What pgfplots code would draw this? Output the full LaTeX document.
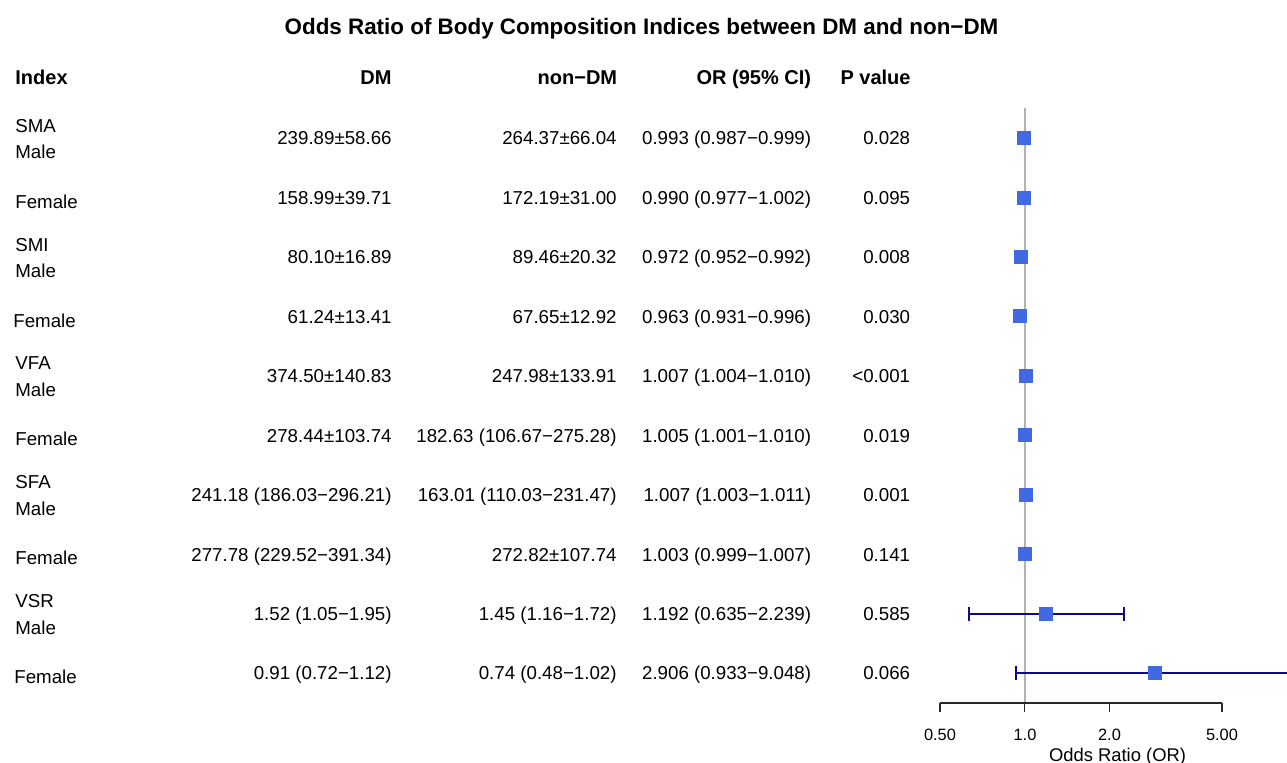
\documentclass[border=0pt]{standalone}
\usepackage{pgfplots}
\pgfplotsset{compat=1.18}
\usepackage{pgfplotstable}
\usepackage{fontspec}
\setmainfont{Liberation Sans}
\definecolor{boxblue}{RGB}{65,105,225}
\definecolor{cinavy}{RGB}{10,10,140}
\definecolor{refgray}{RGB}{178,178,178}
\definecolor{axisdark}{RGB}{40,40,40}

\newcommand\bodyfont{\fontsize{9.35}{11}\selectfont}
\newcommand\headfont{\fontsize{10}{12}\selectfont\bfseries}
\newcommand\titlefont{\fontsize{11.2}{13}\selectfont\bfseries}
\newcommand\tickfont{\fontsize{8.2}{10}\selectfont}
\newcommand\labfont{\fontsize{9.2}{11}\selectfont}

% row  OR  lower  upper
\pgfplotstableread{
row or lo hi
1 0.993 0.987 0.999
2 0.990 0.977 1.002
3 0.972 0.952 0.992
4 0.963 0.931 0.996
5 1.007 1.004 1.010
6 1.005 1.001 1.010
7 1.007 1.003 1.011
8 1.003 0.999 1.007
9 1.192 0.635 2.239
10 2.906 0.933 9.048
}\ordata

% #1 row centre (px), #2 DM, #3 non-DM, #4 OR, #5 P
\newcommand\vrow[5]{%
  \node[anchor=base east,inner sep=0,font=\bodyfont] at (392,{#1+6.7}) {#2};
  \node[anchor=base east,inner sep=0,font=\bodyfont] at (617,{#1+6.7}) {#3};
  \node[anchor=base east,inner sep=0,font=\bodyfont] at (811.5,{#1+6.7}) {#4};
  \node[anchor=base east,inner sep=0,font=\bodyfont] at (910.5,{#1+6.7}) {#5};
}
% #1 centre, #2 index name
\newcommand\malelab[2]{%
  \node[anchor=base west,inner sep=0,font=\bodyfont] at (15,{#1-6.1}) {#2};
  \node[anchor=base west,inner sep=0,font=\bodyfont] at (15,{#1+20.3}) {Male};
}
\newcommand\femlab[2]{%
  \node[anchor=base west,inner sep=0,font=\bodyfont] at (#2,{#1+10.5}) {Female};
}

\begin{document}
\begin{tikzpicture}[x=0.5pt,y=-0.5pt]
\useasboundingbox (0,0) rectangle (1287,763);

% title
\node[anchor=base,inner sep=0,font=\titlefont] at (641.5,35) {Odds Ratio of Body Composition Indices between DM and non−DM};

% headers
\node[anchor=base west,inner sep=0,font=\headfont] at (15,85) {Index};
\node[anchor=base east,inner sep=0,font=\headfont] at (392,85) {DM};
\node[anchor=base east,inner sep=0,font=\headfont] at (617.5,85) {non−DM};
\node[anchor=base east,inner sep=0,font=\headfont] at (811.5,85) {OR (95\% CI)};
\node[anchor=base east,inner sep=0,font=\headfont] at (911,85) {P value};

% row labels
\malelab{138.3}{SMA}
\femlab{197.7}{15}
\malelab{257.2}{SMI}
\femlab{316.6}{13}
\malelab{376.1}{VFA}
\femlab{435.5}{15}
\malelab{495.0}{SFA}
\femlab{554.4}{15}
\malelab{613.8}{VSR}
\femlab{673.3}{14}

% row values
\vrow{138.3}{239.89±58.66}{264.37±66.04}{0.993 (0.987−0.999)}{0.028}
\vrow{197.7}{158.99±39.71}{172.19±31.00}{0.990 (0.977−1.002)}{0.095}
\vrow{257.2}{80.10±16.89}{89.46±20.32}{0.972 (0.952−0.992)}{0.008}
\vrow{316.6}{61.24±13.41}{67.65±12.92}{0.963 (0.931−0.996)}{0.030}
\vrow{376.1}{374.50±140.83}{247.98±133.91}{1.007 (1.004−1.010)}{<0.001}
\vrow{435.5}{278.44±103.74}{182.63 (106.67−275.28)}{1.005 (1.001−1.010)}{0.019}
\vrow{495.0}{241.18 (186.03−296.21)}{163.01 (110.03−231.47)}{1.007 (1.003−1.011)}{0.001}
\vrow{554.4}{277.78 (229.52−391.34)}{272.82±107.74}{1.003 (0.999−1.007)}{0.141}
\vrow{613.8}{1.52 (1.05−1.95)}{1.45 (1.16−1.72)}{1.192 (0.635−2.239)}{0.585}
\vrow{673.3}{0.91 (0.72−1.12)}{0.74 (0.48−1.02)}{2.906 (0.933−9.048)}{0.066}

% tick labels and axis title
\node[anchor=base,inner sep=0,font=\tickfont] at (940,741) {0.50};
\node[anchor=base,inner sep=0,font=\tickfont] at (1025,741) {1.0};
\node[anchor=base,inner sep=0,font=\tickfont] at (1109.5,741) {2.0};
\node[anchor=base,inner sep=0,font=\tickfont] at (1222,741) {5.00};
\node[anchor=base,inner sep=0,font=\labfont] at (1117.5,761.5) {Odds Ratio (OR)};

\begin{axis}[
  at={(470pt,-54.15pt)}, anchor=north west,
  width=173.5pt, height=297.35pt, scale only axis,
  xmode=log, xmin=0.5, xmax=8.51,
  ymin=0.5, ymax=10.5, y dir=reverse,
  axis lines=none,
  clip mode=individual,
]
% reference line at OR = 1
\addplot[refgray, line width=1pt] coordinates {(1,0.5) (1,10.5)};
% confidence intervals
\addplot[cinavy, line width=1pt] coordinates {(0.987,1) (0.999,1)};
\addplot[cinavy, line width=1pt] coordinates {(0.977,2) (1.002,2)};
\addplot[cinavy, line width=1pt] coordinates {(0.952,3) (0.992,3)};
\addplot[cinavy, line width=1pt] coordinates {(0.931,4) (0.996,4)};
\addplot[cinavy, line width=1pt] coordinates {(1.004,5) (1.010,5)};
\addplot[cinavy, line width=1pt] coordinates {(1.001,6) (1.010,6)};
\addplot[cinavy, line width=1pt] coordinates {(1.003,7) (1.011,7)};
\addplot[cinavy, line width=1pt] coordinates {(0.999,8) (1.007,8)};
\addplot[cinavy, line width=1pt, mark=|, mark size=3.5pt] coordinates {(0.635,9) (2.239,9)};
\addplot[cinavy, line width=1pt, mark=|, mark size=3.5pt] coordinates {(0.933,10) (9.048,10)};
% point estimates
\addplot[only marks, mark=square*, mark size=3.25pt,
  mark options={draw=boxblue, fill=boxblue, line width=0pt}]
  table[x=or, y=row]{\ordata};
% x axis (R style, spanning the ticks only)
\draw[axisdark, line width=0.6pt] (axis cs:0.5,10.5) -- (axis cs:5,10.5);
\draw[axisdark, line width=0.6pt] (axis cs:0.5,10.5) -- ++(0pt,-4.5pt);
\draw[axisdark, line width=0.6pt] (axis cs:1,10.5) -- ++(0pt,-4.5pt);
\draw[axisdark, line width=0.6pt] (axis cs:2,10.5) -- ++(0pt,-4.5pt);
\draw[axisdark, line width=0.6pt] (axis cs:5,10.5) -- ++(0pt,-4.5pt);
\end{axis}
\end{tikzpicture}
\end{document}
